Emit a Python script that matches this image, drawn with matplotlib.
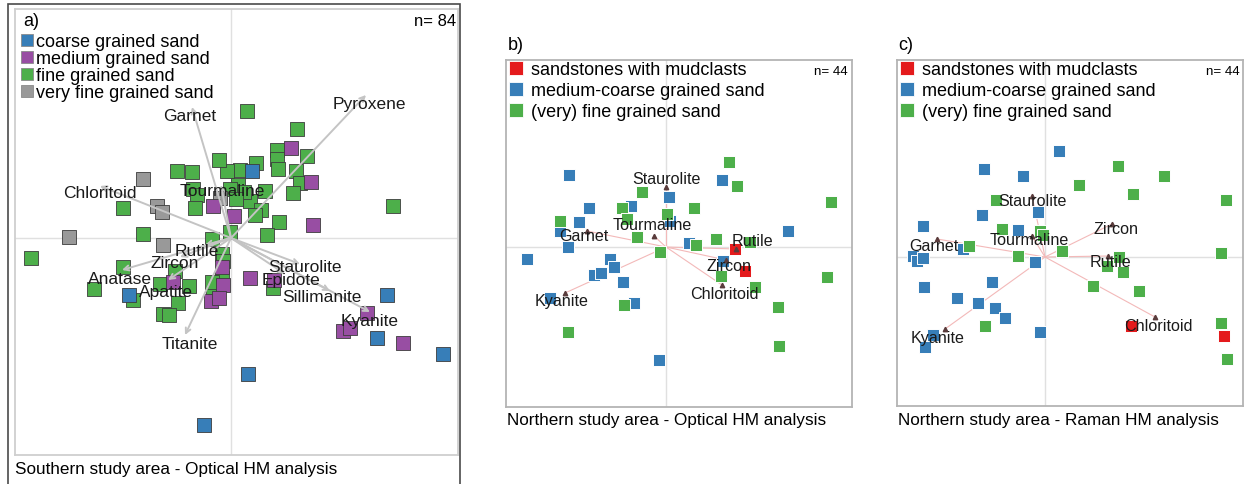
import matplotlib
matplotlib.use("Agg")
import matplotlib.pyplot as plt
from matplotlib.lines import Line2D
from matplotlib.patches import Rectangle

plt.rcParams['font.family'] = ['Liberation Sans', 'DejaVu Sans']

# ---------------- data: sample scores ----------------
# a) Southern study area - optical heavy-mineral analysis
a_coarse_x = [0.42, -2.04, -0.54, 3.12, 2.92, 4.24, 0.34]
a_coarse_y = [1.34, -1.14, -3.74, -1.14, -2.00, -2.32, -2.72]
a_medium_x = [1.20, 1.60, -0.36, 0.06, 1.64, -1.16, -0.18, -0.16, -0.40, -0.24,
              0.38, 0.86, 2.72, 2.24, 2.38, 3.44]
a_medium_y = [1.80, 1.12, 0.64, 0.44, 0.26, -0.88, -0.58, -0.94, -1.26, -1.20,
              -0.80, -0.84, -1.50, -1.86, -1.80, -2.10]
a_fine_x = [0.32, 1.32, 0.92, 1.52, 0.92, 0.94, 0.50, 0.18, -0.08, -0.24,
            -1.08, -0.78, 1.30, 1.38, 1.24, 0.68, 0.38, 0.60, 0.48, 0.14,
            -0.02, -0.76, -0.68, -0.72, 0.96, 0.72, -0.02, -0.38, -1.76, -2.16,
            3.24, -4.00, -2.16, -2.74, -1.96, -1.42, -0.84, -1.12, -1.06, -1.36,
            -1.24, -0.18, -0.18, -0.36, -0.38, 0.84, 0.26, 0.10, -0.16]
a_fine_y = [2.54, 2.18, 1.76, 1.64, 1.58, 1.38, 1.50, 1.36, 1.34, 1.56,
            1.34, 1.32, 1.34, 1.10, 0.90, 0.94, 0.74, 0.56, 0.46, 1.06,
            0.98, 0.98, 0.86, 0.60, 0.32, 0.06, 0.12, -0.02, 0.08, 0.60,
            0.64, -0.40, -0.58, -1.02, -1.24, -0.92, -0.96, -0.66, -1.30, -1.52,
            -1.54, -0.32, -0.80, -1.08, -0.88, -1.00, 0.92, 0.78, -0.46]
a_vfine_x = [-1.76, -1.48, -1.38, -0.22, -3.24, -1.36]
a_vfine_y = [1.18, 0.64, 0.52, 0.80, 0.02, -0.14]

a_minerals = ['Garnet', 'Pyroxene', 'Chloritoid', 'Tourmaline', 'Rutile', 'Zircon',
              'Apatite', 'Anatase', 'Titanite', 'Staurolite', 'Epidote',
              'Sillimanite', 'Kyanite']
a_load_x = [-0.78, 2.70, -2.62, -0.20, -0.52, -1.02, -1.26, -2.18, -0.92, 1.38, 1.08, 1.98, 2.78]
a_load_y = [2.62, 2.86, 1.04, 1.06, -0.14, -0.38, -0.84, -0.64, -1.94, -0.52, -0.72, -1.06, -1.48]

# b) Northern study area - optical heavy-mineral analysis
b_mud_x = [1.38, 1.58]
b_mud_y = [-0.04, -0.48]
b_medc_x = [-1.94, 1.12, 0.06, -1.54, -0.70, -1.74, -2.12, 0.08, 2.44, -1.96,
            0.46, -2.78, -1.12, -1.04, 1.14, -1.44, -1.30, -0.86, -2.32, -0.64, -0.14]
b_medc_y = [1.44, 1.34, 1.00, 0.78, 0.82, 0.50, 0.32, 0.52, 0.32, 0.00,
            0.08, -0.24, -0.24, -0.40, -0.28, -0.56, -0.52, -0.70, -1.02, -1.12, -2.26]
b_fine_x = [1.26, 1.42, -0.48, 3.30, -0.88, 0.56, 0.02, -2.12, -0.78, -0.58,
            0.60, 1.00, 1.68, -0.12, 1.10, 3.22, 1.78, -0.84, 2.24, -1.96, 2.26]
b_fine_y = [1.70, 1.22, 1.10, 0.90, 0.78, 0.78, 0.66, 0.52, 0.56, 0.20,
            0.04, 0.16, 0.10, -0.10, -0.58, -0.60, -0.80, -1.16, -1.20, -1.70, -1.98]

b_minerals = ['Staurolite', 'Tourmaline', 'Garnet', 'Kyanite', 'Rutile', 'Zircon', 'Chloritoid']
b_load_x = [0.00, -0.24, -1.58, -2.02, 1.40, 1.20, 1.12]
b_load_y = [1.20, 0.22, 0.32, -0.92, -0.04, -0.26, -0.76]

# c) Northern study area - Raman heavy-mineral analysis
c_mud_x = [1.72, 3.58]
c_mud_y = [-1.38, -1.58]
c_medc_x = [0.28, -1.22, -0.44, -0.14, -1.26, -2.44, -0.54, -1.64, -2.64, -2.56,
            -2.44, -0.20, -2.42, -1.06, -1.76, -1.34, -1.00, -0.80, -0.10, -2.24, -2.40]
c_medc_y = [2.12, 1.76, 1.62, 0.90, 0.84, 0.62, 0.54, 0.16, 0.02, -0.08,
            -0.02, -0.10, -0.60, -0.50, -0.82, -0.92, -1.02, -1.22, -1.50, -1.56, -1.80]
c_fine_x = [1.46, 2.38, 0.68, 1.76, 3.62, -0.98, -0.86, -0.10, -0.04, -1.52,
            -0.54, 0.34, 3.52, 1.48, 1.24, 1.56, 0.96, 1.88, -1.20, 3.52, 3.64]
c_fine_y = [1.82, 1.62, 1.44, 1.26, 1.14, 1.14, 0.56, 0.52, 0.44, 0.22,
            0.02, 0.12, 0.08, 0.00, -0.18, -0.30, -0.58, -0.68, -1.38, -1.32, -2.04]

c_minerals = ['Staurolite', 'Garnet', 'Tourmaline', 'Zircon', 'Rutile', 'Chloritoid', 'Kyanite']
c_load_x = [-0.26, -2.16, -0.26, 1.34, 1.26, 2.20, -2.00]
c_load_y = [1.22, 0.36, 0.42, 0.66, 0.02, -1.20, -1.44]

# ---------------- styling ----------------
W, H = 1250, 485
BLUE, PURPLE, GREEN, GREY, RED = '#377eb8', '#984ea3', '#4daf4a', '#999999', '#e41a1c'

# label offsets from the loading tip (pixels, x right / y up)
a_label_off = {'Garnet': (-2, -9), 'Pyroxene': (3, -8), 'Chloritoid': (0, -6),
               'Tourmaline': (1, -5), 'Rutile': (-8, -6), 'Zircon': (-5, -5),
               'Apatite': (-2, -11), 'Anatase': (-2, -9), 'Titanite': (5, -9),
               'Staurolite': (5, -3), 'Epidote': (6, -6), 'Sillimanite': (-8, -6),
               'Kyanite': (0, -9)}
b_label_off = {'Staurolite': (0, 8), 'Tourmaline': (-2, 11), 'Garnet': (-3, -5),
               'Kyanite': (-3, -8), 'Rutile': (16, 8), 'Zircon': (3, -6),
               'Chloritoid': (2, -9)}
c_label_off = {'Staurolite': (0, -5), 'Garnet': (-3, -7), 'Tourmaline': (-3, -4),
               'Zircon': (4, -5), 'Rutile': (2, -6), 'Chloritoid': (3, -9),
               'Kyanite': (-7, -9)}

fig = plt.figure(figsize=(W / 100, H / 100), dpi=100)


def px_axes(left, top, right, bottom):
    return fig.add_axes([left / W, 1 - bottom / H, (right - left) / W, (bottom - top) / H])


def fig_text(x, y, s, **kw):
    fig.text(x / W, 1 - y / H, s, **kw)


def frame(ax, xlim, ylim, edge):
    ax.set_xlim(*xlim)
    ax.set_ylim(*ylim)
    ax.set_xticks([])
    ax.set_yticks([])
    for sp in ax.spines.values():
        sp.set_color(edge)
        sp.set_linewidth(1.3)
    ax.axhline(0, color='#e0e0e0', lw=1.0, zorder=0)
    ax.axvline(0, color='#e0e0e0', lw=1.0, zorder=0)


# ---------------- panel a ----------------
axa = px_axes(15, 10, 458, 456)
frame(axa, (-4.32, 4.54), (-4.34, 4.58), '#cfcfcf')
a_groups = [(a_coarse_x, a_coarse_y, BLUE, 'coarse grained sand'),
            (a_medium_x, a_medium_y, PURPLE, 'medium grained sand'),
            (a_fine_x, a_fine_y, GREEN, 'fine grained sand'),
            (a_vfine_x, a_vfine_y, GREY, 'very fine grained sand')]
for gx, gy, col, lab in [a_groups[2], a_groups[3], a_groups[1], a_groups[0]]:
    axa.scatter(gx, gy, s=92, marker='s', c=col, edgecolors='#3c3c3c',
                linewidths=0.6, zorder=2)
for name, tx, ty in zip(a_minerals, a_load_x, a_load_y):
    axa.annotate('', xy=(tx, ty), xytext=(0, 0),
                 arrowprops=dict(arrowstyle='->', color='#c4c4c4', lw=1.4,
                                 shrinkA=0, shrinkB=0, mutation_scale=9), zorder=3)
    axa.annotate(name, xy=(tx, ty), xytext=a_label_off[name], textcoords='offset pixels',
                 ha='center', va='center', fontsize=12.5, color='#1a1a1a', zorder=4)
a_handles = [Line2D([], [], ls='none', marker='s', ms=9, mfc=c, mec='#8a8a8a', mew=0.6)
             for _, _, c, _ in a_groups]
axa.legend(a_handles, [g[3] for g in a_groups], loc='upper left',
           bbox_to_anchor=(22 / W, 1 - 34 / H), bbox_transform=fig.transFigure,
           frameon=False, fontsize=13, handlelength=0.55, handletextpad=0.2,
           labelspacing=0.0, borderpad=0, borderaxespad=0)
fig_text(23, 22, 'a)', fontsize=13, ha='left', va='center')
fig_text(456, 22, 'n= 84', fontsize=12, ha='right', va='center')
fig_text(15, 470, 'Southern study area - Optical HM analysis', fontsize=12.3,
         ha='left', va='center')
fig.add_artist(Rectangle((8 / W, -0.05), (460 - 8) / W, 1 - 5 / H + 0.05,
                         transform=fig.transFigure, fill=False, ec='#4a4a4a', lw=1.2))

# ---------------- panels b and c ----------------
bc_labels = ['sandstones with mudclasts', 'medium-coarse grained sand', '(very) fine grained sand']


def northern_panel(ax, mud, medc, fine, minerals, lx, ly, offs):
    for gx, gy, col in [(medc[0], medc[1], BLUE), (fine[0], fine[1], GREEN), (mud[0], mud[1], RED)]:
        ax.scatter(gx, gy, s=66, marker='s', c=col, edgecolors='white',
                   linewidths=0.7, zorder=2)
    for name, tx, ty in zip(minerals, lx, ly):
        ax.plot([0, tx], [0, ty], color='#f3b9b9', lw=0.8, zorder=1)
        ax.plot([tx], [ty], ls='none', marker='^', ms=3.2, color='#5a3c3c', zorder=3)
        ax.annotate(name, xy=(tx, ty), xytext=offs[name], textcoords='offset pixels',
                    ha='center', va='center', fontsize=11.6, color='#1a1a1a', zorder=4)
    handles = [Line2D([], [], ls='none', marker='s', ms=9.5, mfc=c, mec='white', mew=0.6)
               for c in (RED, BLUE, GREEN)]
    return handles


def northern_legend(ax, handles, x_px):
    ax.legend(handles, bc_labels, loc='upper left', bbox_to_anchor=(x_px / W, 1 - 62 / H),
              bbox_transform=fig.transFigure, frameon=False, fontsize=13,
              handlelength=0.65, handletextpad=0.5, labelspacing=0.22, borderpad=0,
              borderaxespad=0)


axb = px_axes(506, 61, 852, 408)
frame(axb, (-3.20, 3.72), (-3.20, 3.74), '#b4b4b4')
hb = northern_panel(axb, (b_mud_x, b_mud_y), (b_medc_x, b_medc_y), (b_fine_x, b_fine_y),
                    b_minerals, b_load_x, b_load_y, b_label_off)
northern_legend(axb, hb, 510)
fig_text(508, 46, 'b)', fontsize=13, ha='left', va='center')
fig_text(848, 72, 'n= 44', fontsize=9.6, ha='right', va='center')
fig_text(507, 420, 'Northern study area - Optical HM analysis', fontsize=12.3,
         ha='left', va='center')

axc = px_axes(897, 61, 1243, 407)
frame(axc, (-2.96, 3.96), (-2.98, 3.94), '#b4b4b4')
hc = northern_panel(axc, (c_mud_x, c_mud_y), (c_medc_x, c_medc_y), (c_fine_x, c_fine_y),
                    c_minerals, c_load_x, c_load_y, c_label_off)
northern_legend(axc, hc, 901)
fig_text(898, 46, 'c)', fontsize=13, ha='left', va='center')
fig_text(1240, 72, 'n= 44', fontsize=9.6, ha='right', va='center')
fig_text(898, 420, 'Northern study area - Raman HM analysis', fontsize=12.3,
         ha='left', va='center')

fig.savefig('out.png', dpi=100, facecolor='white')
